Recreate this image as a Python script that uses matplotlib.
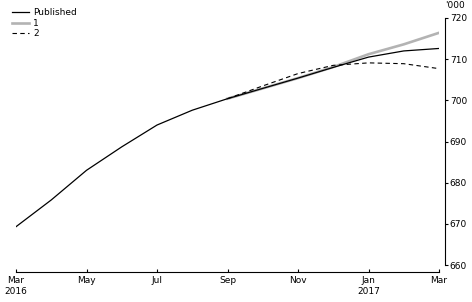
import numpy as np
import matplotlib.pyplot as plt
import matplotlib as mpl

months = ['Mar', 'Apr', 'May', 'Jun', 'Jul', 'Aug', 'Sep',
          'Oct', 'Nov', 'Dec', 'Jan', 'Feb', 'Mar']
published = [669.3, 675.8, 683.0, 688.7, 694.0, 697.6, 700.4,
             702.9, 705.4, 708.0, 710.5, 712.0, 712.6]
# scenarios start at Sep 2016
proj1 = [700.4, 702.9, 705.4, 708.1, 711.2, 713.6, 716.4]
proj2 = [700.4, 703.5, 706.5, 708.5, 709.1, 708.9, 707.7]
tick_labels = ['Mar\n2016', 'May', 'Jul', 'Sep', 'Nov', 'Jan\n2017', 'Mar']

mpl.rcParams['font.family'] = 'DejaVu Sans'
mpl.rcParams['font.size'] = 6.5

fig = plt.figure(figsize=(4.72, 3.02), dpi=100)
ax = fig.add_axes([16/472, 30/302, 423/472, 254/302])

x = np.arange(len(months))
xp = x[6:]
ax.plot(xp, proj1, color='#b3b3b3', lw=1.9, label='1', zorder=2)
ax.plot(xp, proj2, color='k', lw=0.8, ls=(0, (4, 3)), label='2', zorder=3)
ax.plot(x, published, color='k', lw=0.9, label='Published', zorder=4)

ax.set_xlim(0, 12)
ax.set_ylim(660 - 7/4.117, 720)
ax.set_xticks(x[::2])
ax.set_xticklabels(tick_labels, linespacing=1.25)
ax.set_yticks(np.arange(660, 721, 10))

for s in ['left', 'top']:
    ax.spines[s].set_visible(False)
ax.spines['right'].set_position(('outward', 4.3))
ax.spines['right'].set_bounds(660, 720)
ax.spines['right'].set_linewidth(0.8)
ax.spines['bottom'].set_linewidth(0.8)
ax.yaxis.set_ticks_position('right')
ax.tick_params(axis='y', direction='out', length=2.5, width=0.8, pad=1)
ax.tick_params(axis='x', direction='in', length=2.5, width=0.8, pad=3)
for lab in ax.get_xticklabels():
    lab.set_horizontalalignment('center')

fig.text(445/472, 1 - 6/302, "'000", fontsize=6.5, va='center', ha='left')

h, l = ax.get_legend_handles_labels()
order = [2, 0, 1]
ax.legend([h[i] for i in order], [l[i] for i in order], loc='upper left',
          bbox_to_anchor=(6/472, 1 - 2/302), bbox_transform=fig.transFigure,
          frameon=False, fontsize=6.5, handlelength=1.9, handletextpad=0.4,
          labelspacing=0.15, borderpad=0.2)

plt.savefig('out.png', dpi=100)
